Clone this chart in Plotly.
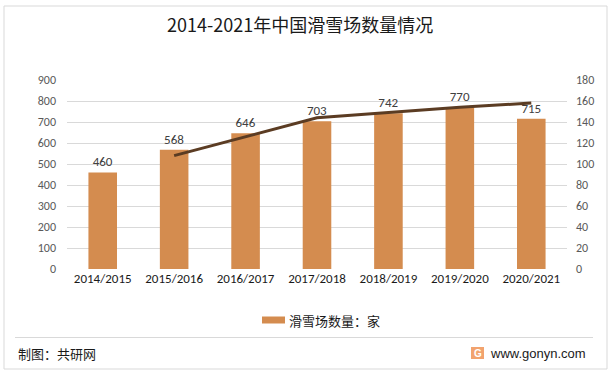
import plotly.graph_objects as go

categories = ["2014/2015", "2015/2016", "2016/2017", "2017/2018", "2018/2019", "2019/2020", "2020/2021"]
resorts = [460, 568, 646, 703, 742, 770, 715]
line_categories = ["2015/2016", "2016/2017", "2017/2018", "2018/2019", "2019/2020", "2020/2021"]
line_values = [108, 126, 144, 149, 154, 158]
legend_label = "滑雪场数量：家"

BAR = "#D48C4F"
LINE = "#5B3C23"
NUM_FONT = "Carlito, Calibri, Lato, Noto Sans CJK SC"
CJK_FONT = "Noto Sans CJK SC, Microsoft YaHei, sans-serif"

fig = go.Figure()
fig.add_trace(go.Bar(
    x=categories, y=resorts, name=legend_label,
    marker=dict(color=BAR, line=dict(width=0)),
    text=[str(v) for v in resorts], textposition="outside",
    textfont=dict(size=13, color="#404040", family=NUM_FONT),
    cliponaxis=False, showlegend=False, hoverinfo="skip",
))
fig.add_trace(go.Scatter(
    x=line_categories, y=line_values, yaxis="y2", mode="lines",
    line=dict(color=LINE, width=3), showlegend=False, hoverinfo="skip",
))

W0, W1 = 67, 567
Y0, Y1 = 269, 80
def px(x):
    return (x - W0) / (W1 - W0)
def py(y):
    return (Y0 - y) / (Y0 - Y1)

shapes = [
    dict(type="rect", xref="paper", yref="paper", x0=px(4), x1=px(607), y0=py(6), y1=py(369),
         line=dict(color="#D9D9D9", width=1), fillcolor="rgba(0,0,0,0)", layer="below"),
    dict(type="line", xref="paper", yref="paper", x0=px(15), x1=px(593), y0=py(337.5), y1=py(337.5),
         line=dict(color="#D9D9D9", width=1)),
    dict(type="rect", xref="paper", yref="paper", x0=px(471), x1=px(484), y0=py(347), y1=py(359),
         line=dict(width=0), fillcolor="#F2A36E"),
    # legend swatch
    dict(type="rect", xref="paper", yref="paper", x0=px(262), x1=px(285), y0=py(316.5), y1=py(323.5),
         line=dict(width=0), fillcolor=BAR),
]

annotations = [
    dict(text="2014-2021年中国滑雪场数量情况", xref="paper", yref="paper", x=px(300), y=py(24),
         showarrow=False, xanchor="center", yanchor="middle",
         font=dict(size=18, color="#1a1a1a", family=CJK_FONT)),
    dict(text=legend_label, xref="paper", yref="paper", x=px(287), y=py(320),
         showarrow=False, xanchor="left", yanchor="middle",
         font=dict(size=13, color="#1a1a1a", family=CJK_FONT)),
    dict(text="制图：共研网", xref="paper", yref="paper", x=px(16), y=py(353),
         showarrow=False, xanchor="left", yanchor="middle",
         font=dict(size=13, color="#1a1a1a", family=CJK_FONT)),
    dict(text="www.gonyn.com", xref="paper", yref="paper", x=px(488), y=py(353),
         showarrow=False, xanchor="left", yanchor="middle",
         font=dict(size=13, color="#1a1a1a", family="Liberation Sans, Arial, sans-serif")),
    dict(text="<b>G</b>", xref="paper", yref="paper", x=px(477.5), y=py(353),
         showarrow=False, xanchor="center", yanchor="middle",
         font=dict(size=10, color="#FFFFFF", family="Liberation Sans, Arial, sans-serif")),
]

fig.update_layout(
    width=616, height=376,
    margin=dict(l=W0, r=616 - W1, t=Y1, b=376 - Y0, autoexpand=False),
    paper_bgcolor="white", plot_bgcolor="white",
    bargap=0.6,
    showlegend=False,
    hovermode=False,
    xaxis=dict(
        type="category", showgrid=False, zeroline=False, showline=False,
        ticks="", tickfont=dict(size=13, color="#1a1a1a", family=NUM_FONT),
        automargin=False,
    ),
    yaxis=dict(
        range=[0, 900], dtick=100, showgrid=True, gridcolor="#D9D9D9", gridwidth=1,
        zeroline=False, showline=False, ticks="", automargin=False,
        tickfont=dict(size=12, color="#595959", family=NUM_FONT), ticklabelstandoff=10,
    ),
    yaxis2=dict(
        range=[0, 180], dtick=20, overlaying="y", side="right", showgrid=False,
        zeroline=False, showline=False, ticks="", automargin=False,
        tickfont=dict(size=12, color="#595959", family=NUM_FONT), ticklabelstandoff=8,
    ),
    shapes=shapes,
    annotations=annotations,
)

fig.write_html(
    "out.html",
    config={"displayModeBar": False, "staticPlot": True},
    post_script="document.body.style.margin='0';document.body.style.overflow='hidden';",
)
